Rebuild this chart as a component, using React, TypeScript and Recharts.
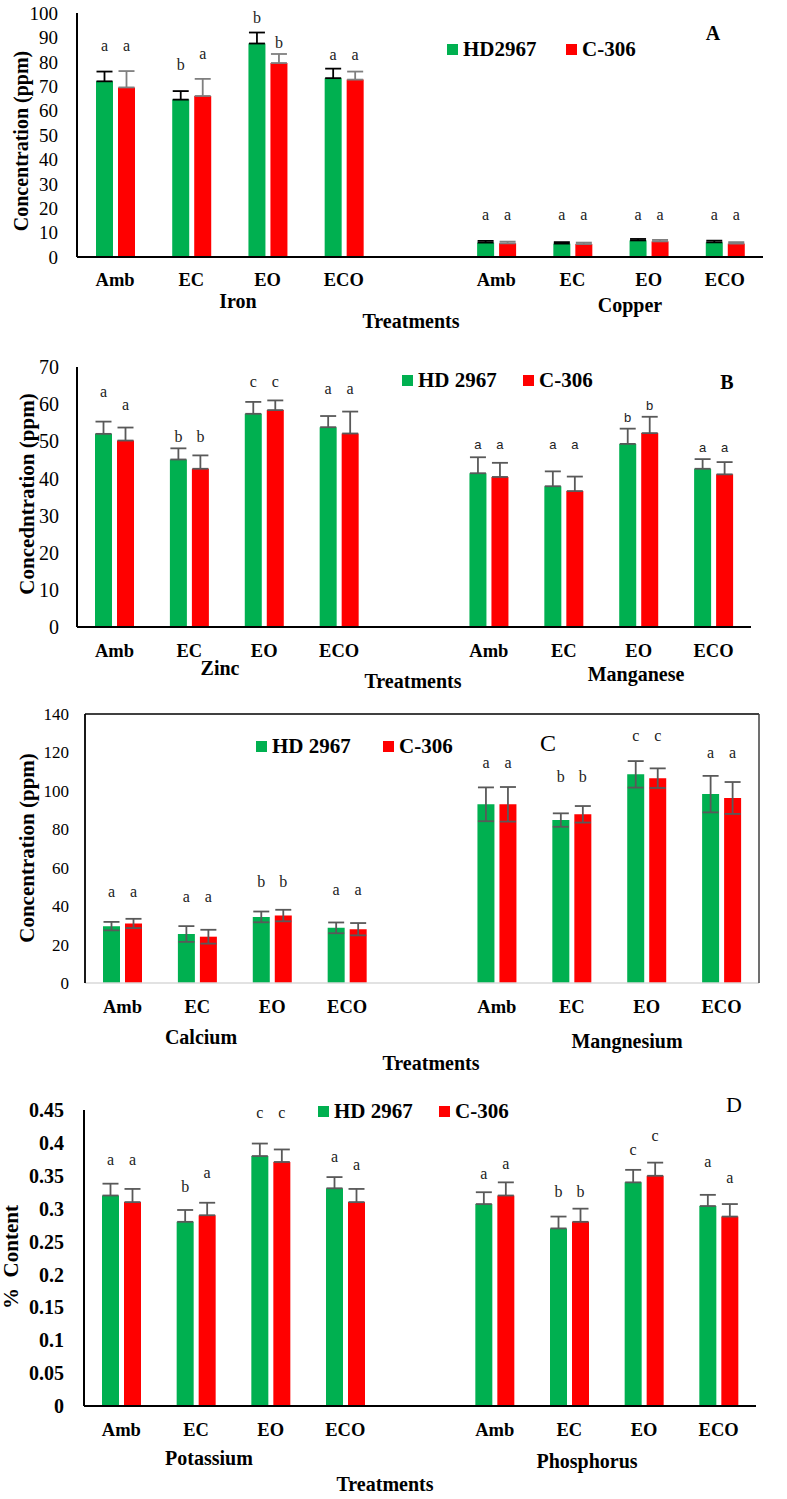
import React from "react";
import { BarChart, Bar, XAxis, YAxis, ErrorBar, LabelList, Legend } from "recharts";

const SERIF = '"Liberation Serif", "Times New Roman", serif';
const SANS = '"Liberation Sans", Arial, sans-serif';
const GREEN = "#00B050";
const RED = "#FF0000";

// ---------- categories ----------
const TREATMENTS = ["Amb", "EC", "EO", "ECO"];

// ---------- Panel A : Iron / Copper (ppm) ----------
const ironHD = [72.0, 64.5, 87.5, 73.3];
const ironHDErr = [4.0, 3.5, 4.5, 3.9];
const ironHDLetters = ["a", "b", "b", "a"];
const ironHDLetterAt = [86, 79, 98, 82.2];
const ironC306 = [69.5, 66.0, 79.5, 72.7];
const ironC306Err = [6.7, 7.0, 3.7, 3.3];
const ironC306Letters = ["a", "a", "b", "a"];
const ironC306LetterAt = [86, 82.6, 87.7, 82.2];

const copperHD = [5.9, 5.5, 6.8, 6.0];
const copperHDErr = [0.7, 0.6, 0.6, 0.7];
const copperHDLetters = ["a", "a", "a", "a"];
const copperHDLetterAt = [16.7, 16.7, 16.7, 16.7];
const copperC306 = [5.6, 5.3, 6.4, 5.5];
const copperC306Err = [0.7, 0.6, 0.6, 0.6];
const copperC306Letters = ["a", "a", "a", "a"];
const copperC306LetterAt = [16.7, 16.7, 16.7, 16.7];

// ---------- Panel B : Zinc / Manganese (ppm) ----------
const zincHD = [52.0, 45.1, 57.4, 53.8];
const zincHDErr = [3.3, 3.0, 3.2, 3.0];
const zincHDLetters = ["a", "b", "c", "a"];
const zincHDLetterAt = [62.9, 51.2, 65.6, 63.6];
const zincC306 = [50.2, 42.6, 58.4, 52.1];
const zincC306Err = [3.5, 3.6, 2.6, 5.9];
const zincC306Letters = ["a", "b", "c", "a"];
const zincC306LetterAt = [59.5, 51.2, 65.6, 63.6];

const mnHD = [41.4, 37.9, 49.3, 42.6];
const mnHDErr = [4.3, 4.0, 4.1, 2.6];
const mnHDLetters = ["a", "a", "b", "a"];
const mnHDLetterAt = [48.7, 48.7, 56.3, 47.8];
const mnC306 = [40.4, 36.6, 52.2, 41.1];
const mnC306Err = [3.8, 3.9, 4.4, 3.3];
const mnC306Letters = ["a", "a", "b", "a"];
const mnC306LetterAt = [48.7, 48.7, 59.7, 47.8];

// ---------- Panel C : Calcium / Magnesium (ppm) ----------
const caHD = [29.6, 25.5, 34.4, 28.7];
const caHDErr = [2.2, 4.1, 2.8, 2.8];
const caHDLetters = ["a", "a", "b", "a"];
const caHDLetterAt = [46.8, 44.2, 52.8, 47.6];
const caC306 = [31.0, 24.1, 35.1, 28.0];
const caC306Err = [2.4, 3.6, 3.0, 3.2];
const caC306Letters = ["a", "a", "b", "a"];
const caC306LetterAt = [46.8, 44.2, 52.8, 47.6];

const mgHD = [93.0, 84.8, 108.6, 98.3];
const mgHDErr = [8.8, 3.5, 6.9, 9.5];
const mgHDLetters = ["a", "b", "c", "a"];
const mgHDLetterAt = [113.9, 107.3, 127.8, 119.0];
const mgC306 = [93.0, 87.8, 106.6, 96.3];
const mgC306Err = [9.0, 4.3, 5.1, 8.3];
const mgC306Letters = ["a", "b", "c", "a"];
const mgC306LetterAt = [113.9, 107.3, 127.8, 119.0];

// ---------- Panel D : Potassium / Phosphorus (% content) ----------
const kHD = [0.32, 0.28, 0.38, 0.331];
const kHDErr = [0.018, 0.018, 0.019, 0.017];
const kHDLetters = ["a", "b", "c", "a"];
const kHDLetterAt = [0.372, 0.333, 0.443, 0.377];
const kC306 = [0.31, 0.29, 0.371, 0.31];
const kC306Err = [0.02, 0.019, 0.019, 0.02];
const kC306Letters = ["a", "a", "c", "a"];
const kC306LetterAt = [0.372, 0.352, 0.443, 0.364];

const pHD = [0.307, 0.27, 0.34, 0.304];
const pHDErr = [0.018, 0.018, 0.019, 0.017];
const pHDLetters = ["a", "b", "c", "a"];
const pHDLetterAt = [0.35, 0.326, 0.387, 0.369];
const pC306 = [0.32, 0.28, 0.35, 0.288];
const pC306Err = [0.02, 0.02, 0.02, 0.019];
const pC306Letters = ["a", "b", "c", "a"];
const pC306LetterAt = [0.366, 0.326, 0.408, 0.344];

// ---------- ticks ----------
const TICKS_A = [0, 10, 20, 30, 40, 50, 60, 70, 80, 90, 100];
const TICKS_B = [0, 10, 20, 30, 40, 50, 60, 70];
const TICKS_C = [0, 20, 40, 60, 80, 100, 120, 140];
const TICKS_D = [0, 0.05, 0.1, 0.15, 0.2, 0.25, 0.3, 0.35, 0.4, 0.45];

// ---------- series names ----------
const SERIES_A = ["HD2967", "C-306"];
const SERIES = ["HD 2967", "C-306"];

type Elem = {
  hd: number[]; hdErr: number[]; hdL: string[]; hdAt: number[];
  c: number[]; cErr: number[]; cL: string[]; cAt: number[];
};

const iron: Elem = { hd: ironHD, hdErr: ironHDErr, hdL: ironHDLetters, hdAt: ironHDLetterAt, c: ironC306, cErr: ironC306Err, cL: ironC306Letters, cAt: ironC306LetterAt };
const copper: Elem = { hd: copperHD, hdErr: copperHDErr, hdL: copperHDLetters, hdAt: copperHDLetterAt, c: copperC306, cErr: copperC306Err, cL: copperC306Letters, cAt: copperC306LetterAt };
const zinc: Elem = { hd: zincHD, hdErr: zincHDErr, hdL: zincHDLetters, hdAt: zincHDLetterAt, c: zincC306, cErr: zincC306Err, cL: zincC306Letters, cAt: zincC306LetterAt };
const mn: Elem = { hd: mnHD, hdErr: mnHDErr, hdL: mnHDLetters, hdAt: mnHDLetterAt, c: mnC306, cErr: mnC306Err, cL: mnC306Letters, cAt: mnC306LetterAt };
const ca: Elem = { hd: caHD, hdErr: caHDErr, hdL: caHDLetters, hdAt: caHDLetterAt, c: caC306, cErr: caC306Err, cL: caC306Letters, cAt: caC306LetterAt };
const mg: Elem = { hd: mgHD, hdErr: mgHDErr, hdL: mgHDLetters, hdAt: mgHDLetterAt, c: mgC306, cErr: mgC306Err, cL: mgC306Letters, cAt: mgC306LetterAt };
const kk: Elem = { hd: kHD, hdErr: kHDErr, hdL: kHDLetters, hdAt: kHDLetterAt, c: kC306, cErr: kC306Err, cL: kC306Letters, cAt: kC306LetterAt };
const pp: Elem = { hd: pHD, hdErr: pHDErr, hdL: pHDLetters, hdAt: pHDLetterAt, c: pC306, cErr: pC306Err, cL: pC306Letters, cAt: pC306LetterAt };

function buildRows(left: Elem, right: Elem, symmetric: boolean, leftSans = false, rightSans = false) {
  const rows: any[] = [];
  const push = (e: Elem | null, i: number, idx: number, sans: boolean) => {
    if (!e) {
      rows.push({ idx, cat: "", hd: null, c306: null, hdErr: null, c306Err: null, hdTag: null, cTag: null });
      return;
    }
    rows.push({
      idx,
      cat: TREATMENTS[i],
      hd: e.hd[i],
      c306: e.c[i],
      hdErr: symmetric ? e.hdErr[i] : [0, e.hdErr[i]],
      c306Err: symmetric ? e.cErr[i] : [0, e.cErr[i]],
      hdTag: `${e.hdL[i]}|${e.hdAt[i]}|${e.hd[i]}|${sans ? 1 : 0}`,
      cTag: `${e.cL[i]}|${e.cAt[i]}|${e.c[i]}|${sans ? 1 : 0}`,
    });
  };
  for (let i = 0; i < 4; i++) push(left, i, i, leftSans);
  push(null, 0, 4, false);
  for (let i = 0; i < 4; i++) push(right, i, 5 + i, rightSans);
  return rows;
}

const letterContent = (props: any) => {
  const { x, y, width, height, value } = props;
  if (typeof value !== "string" || !isFinite(x) || !isFinite(y) || !height) return null;
  const [letter, atS, valS, sansS] = value.split("|");
  const at = Number(atS);
  const val = Number(valS);
  if (!letter || !val) return null;
  const base = y + height;
  const ppu = height / val;
  const cy = base - at * ppu;
  const sans = sansS === "1";
  const fs = sans ? 13 : 16;
  const off = letter === "b" ? 0.34 : 0.23;
  return (
    <text x={x + width / 2} y={cy + off * fs} textAnchor="middle" fontFamily={sans ? SANS : SERIF} fontSize={fs} fill="#222">
      {letter}
    </text>
  );
};

type PanelProps = {
  top: number; height: number; margin: any; yWidth: number; domain: [number, number]; ticks: number[];
  yTickSize: number; yTickBold: boolean; yTickMargin: number; xTickMargin: number;
  yAxisStroke: string; yAxisWidth: number; xAxisStroke: string; xAxisWidth: number;
  rows: any[]; hdErrColor: string; cErrColor: string; names: string[];
  legendLeft: number; legendTop: number; legendGap: number; fmt?: (v: number) => string;
};

function LegendBox({ names, gap }: { names: string[]; gap: number }) {
  const item = (color: string, name: string, left: number) => (
    <div style={{ position: "absolute", left, top: 0, display: "flex", alignItems: "center", height: 20, whiteSpace: "nowrap" }}>
      <div style={{ width: 11, height: 11, background: color, marginRight: 5 }} />
      <span style={{ fontFamily: SERIF, fontWeight: "bold", fontSize: 21, lineHeight: "20px", color: "#000" }}>{name}</span>
    </div>
  );
  return (
    <div style={{ position: "relative", width: 260, height: 20 }}>
      {item(GREEN, names[0], 0)}
      {item(RED, names[1], gap)}
    </div>
  );
}

function Panel(p: PanelProps) {
  return (
    <div style={{ position: "absolute", left: 0, top: p.top }}>
      <BarChart width={787} height={p.height} data={p.rows} margin={p.margin} barGap={5}>
        <XAxis
          dataKey="idx"
          type="category"
          interval={0}
          tickLine={false}
          tickSize={0}
          tickMargin={p.xTickMargin}
          height={30}
          axisLine={{ stroke: p.xAxisStroke, strokeWidth: p.xAxisWidth }}
          tickFormatter={(v: any) => (p.rows[v] ? p.rows[v].cat : "")}
          tick={{ fill: "#000", fontFamily: SERIF, fontWeight: "bold", fontSize: 18.5 }}
        />
        <YAxis
          width={p.yWidth}
          domain={p.domain}
          ticks={p.ticks}
          interval={0}
          allowDataOverflow
          tickLine={false}
          tickSize={0}
          tickMargin={p.yTickMargin}
          axisLine={{ stroke: p.yAxisStroke, strokeWidth: p.yAxisWidth }}
          tickFormatter={p.fmt}
          tick={{ fill: "#000", fontFamily: SERIF, fontWeight: p.yTickBold ? "bold" : "normal", fontSize: p.yTickSize }}
        />
        <Legend
          layout="horizontal"
          verticalAlign="middle"
          align="center"
          wrapperStyle={{ left: p.legendLeft, top: p.legendTop, width: 260, height: 20 }}
          content={() => <LegendBox names={p.names} gap={p.legendGap} />}
        />
        <Bar dataKey="hd" name={p.names[0]} fill={GREEN} barSize={17} isAnimationActive={false}>
          <ErrorBar dataKey="hdErr" direction="y" width={8} stroke={p.hdErrColor} strokeWidth={1.8} />
          <LabelList dataKey="hdTag" content={letterContent} />
        </Bar>
        <Bar dataKey="c306" name={p.names[1]} fill={RED} barSize={17} isAnimationActive={false}>
          <ErrorBar dataKey="c306Err" direction="y" width={8} stroke={p.cErrColor} strokeWidth={1.8} />
          <LabelList dataKey="cTag" content={letterContent} />
        </Bar>
      </BarChart>
    </div>
  );
}

const rowsA = buildRows(iron, copper, false);
const rowsB = buildRows(zinc, mn, false, false, true);
const rowsC = buildRows(ca, mg, true);
const rowsD = buildRows(kk, pp, false);

const fmtD = (v: number) => String(Number(v.toFixed(2)));

function T({ x, y, s, size = 20, bold = true, rot = false, pre = false }: any) {
  return (
    <text
      x={x}
      y={y}
      textAnchor="middle"
      fontFamily={SERIF}
      fontWeight={bold ? "bold" : "normal"}
      fontSize={size}
      fill="#000"
      dominantBaseline={rot ? "central" : undefined}
      transform={rot ? `rotate(-90 ${x} ${y})` : undefined}
      style={pre ? { whiteSpace: "pre" } : undefined}
    >
      {s}
    </text>
  );
}

export default function App() {
  return (
    <div style={{ position: "absolute", left: 0, top: 0, width: 787, height: 1499, background: "#fff", overflow: "hidden" }}>
      <Panel
        top={0} height={290} margin={{ top: 13, right: 24, left: 0, bottom: 3 }} yWidth={77}
        domain={[0, 100]} ticks={TICKS_A} yTickSize={19} yTickBold={false} yTickMargin={19} xTickMargin={16}
        yAxisStroke="#000" yAxisWidth={2} xAxisStroke="#000" xAxisWidth={2}
        rows={rowsA} hdErrColor="#000" cErrColor="#7F7F7F" names={SERIES_A}
        legendLeft={447} legendTop={39} legendGap={119}
      />
      <Panel
        top={340} height={320} margin={{ top: 27, right: 36, left: 0, bottom: 3 }} yWidth={77}
        domain={[0, 70]} ticks={TICKS_B} yTickSize={20} yTickBold={false} yTickMargin={18} xTickMargin={16.5}
        yAxisStroke="#000" yAxisWidth={2} xAxisStroke="#000" xAxisWidth={2}
        rows={rowsB} hdErrColor="#595959" cErrColor="#595959" names={SERIES}
        legendLeft={402} legendTop={30} legendGap={121}
      />
      <Panel
        top={700} height={316} margin={{ top: 14, right: 28, left: 0, bottom: 3 }} yWidth={85}
        domain={[0, 140]} ticks={TICKS_C} yTickSize={17} yTickBold={false} yTickMargin={16} xTickMargin={16.5}
        yAxisStroke="#000" yAxisWidth={1.8} xAxisStroke="#D9D9D9" xAxisWidth={1.5}
        rows={rowsC} hdErrColor="#595959" cErrColor="#595959" names={SERIES}
        legendLeft={256} legendTop={36} legendGap={127}
      />
      <Panel
        top={1080} height={359} margin={{ top: 30, right: 31, left: 0, bottom: 3 }} yWidth={84}
        domain={[0, 0.45]} ticks={TICKS_D} yTickSize={20} yTickBold={true} yTickMargin={20} xTickMargin={17}
        yAxisStroke="#000" yAxisWidth={2} xAxisStroke="#000" xAxisWidth={2}
        rows={rowsD} hdErrColor="#595959" cErrColor="#595959" names={SERIES}
        legendLeft={318} legendTop={21} legendGap={121} fmt={fmtD}
      />
      <svg width={787} height={1499} style={{ position: "absolute", left: 0, top: 0, pointerEvents: "none" }}>
        {/* frame of panel C */}
        <line x1={85} y1={714} x2={759} y2={714} stroke="#000" strokeWidth={1.5} />
        <line x1={759} y1={714} x2={759} y2={983} stroke="#404040" strokeWidth={1.5} />

        {/* panel letters */}
        <T x={713} y={40} s="A" size={20} />
        <T x={727} y={389} s="B" size={20} />
        <T x={548} y={751} s="C" size={24} bold={false} />
        <T x={734} y={1112} s="D" size={22} bold={false} />

        {/* element names */}
        <T x={238} y={308} s="Iron" />
        <T x={630} y={312} s="Copper" />
        <T x={411} y={328} s="Treatments" />

        <T x={220} y={675} s="Zinc" />
        <T x={636} y={681} s="Manganese" />
        <T x={413} y={688} s="Treatments" />

        <T x={201} y={1044} s="Calcium" />
        <T x={627} y={1048} s="Mangnesium" />
        <T x={431} y={1070} s="Treatments" />

        <T x={209} y={1465} s="Potassium" />
        <T x={587} y={1468} s="Phosphorus" />
        <T x={385} y={1491} s="Treatments" />

        {/* y titles */}
        <T x={21} y={141} s="Concentration (ppm)" rot />
        <T x={27} y={494} s="Concedntration (ppm)" size={21} rot />
        <T x={27} y={848} s="Concentration (ppm)" size={21} rot />
        <T x={11} y={1257} s="%  Content" size={21} rot pre />
      </svg>
    </div>
  );
}
